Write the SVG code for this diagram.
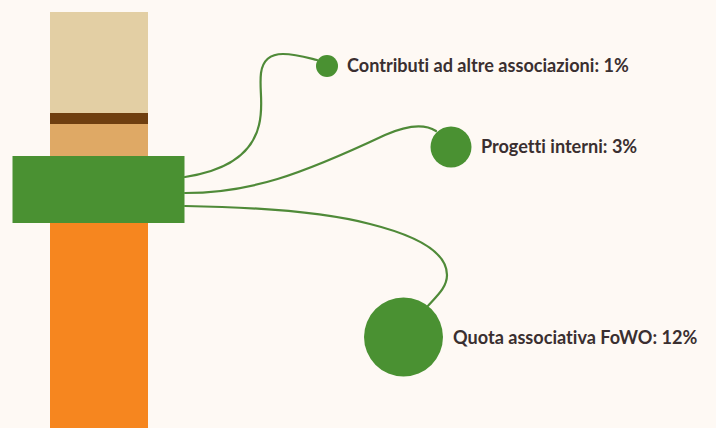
<svg xmlns="http://www.w3.org/2000/svg" width="716" height="428" viewBox="0 0 716 428">
<style>
.g{fill:#4a9132}
.c{fill:none;stroke:#4f8a38;stroke-width:2.2;stroke-linecap:round}
.t{font-family:Lato,"Liberation Sans",sans-serif;font-weight:700;font-size:18.1px;fill:#3a2f30;font-variant-ligatures:none}
</style>
<rect width="716" height="428" fill="#fef9f4"/>
<g id="column">
<rect x="50" y="12" width="98" height="102" fill="#e3cfa4"/>
<rect x="50" y="113" width="98" height="11" fill="#6f3f10"/>
<rect x="50" y="124" width="98" height="33" fill="#dfa965"/>
<rect x="50" y="222" width="98" height="206" fill="#f6861f"/>
</g>
<g id="connectors">
<path class="c" d="M185 177C225 171 252 155 259 125C264 105 259 90 261 73C263 58 272 54 283 54C295 54 305 57 317 60"/>
<path class="c" d="M185 193C250 193 300 175 385 135C410 124 425 124 436 131"/>
<path class="c" d="M185 206C250 207 320 211 370 224C410 234 447 250 447 275C447 287 438 295 427 307"/>
</g>
<g id="source"><rect class="g" x="12.500" y="156" width="172" height="67"/></g>
<g id="node-contributi">
<circle class="g" cx="327" cy="66" r="11"/>
<text class="t" x="347" y="72">Contributi ad altre associazioni: 1%</text>
</g>
<g id="node-progetti">
<circle class="g" cx="451" cy="147" r="20.500"/>
<text class="t" x="481" y="152.500">Progetti interni: 3%</text>
</g>
<g id="node-quota">
<circle class="g" cx="403.500" cy="337" r="39.500"/>
<text class="t" x="453" y="344">Quota associativa FoWO: 12%</text>
</g>
</svg>
